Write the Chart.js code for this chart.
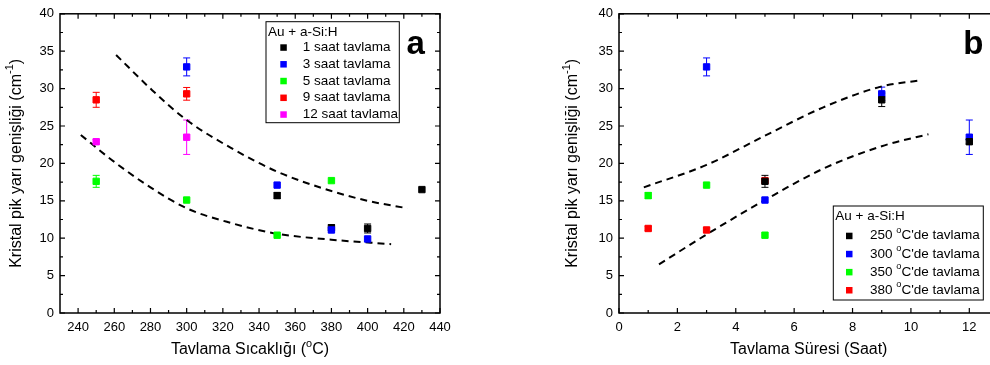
<!DOCTYPE html>
<html>
<head>
<meta charset="utf-8">
<script src="https://cdn.jsdelivr.net/npm/chart.js@4.4.0/dist/chart.umd.min.js"></script>
<style>
  body { margin: 0; background: #fff; width: 990px; height: 365px; overflow: hidden; position: relative; }
  #chartA { position: absolute; left: 0; top: 0; }
  #wrapB { position: absolute; left: 495px; top: 0; width: 495px; height: 365px; overflow: hidden; }
</style>
</head>
<body>
<canvas id="chartA" width="495" height="365"></canvas>
<div id="wrapB"><canvas id="chartB" width="540" height="365"></canvas></div>
<script>
const FONT = "'Liberation Sans', Arial, sans-serif";

// ---- shared y axis ----
const yTicks = [0, 5, 10, 15, 20, 25, 30, 35, 40];

// ---- panel a : x = annealing temperature ----
const tempTicks = [240, 260, 280, 300, 320, 340, 360, 380, 400, 420, 440];
const saat1X = [350, 380, 400, 430], saat1Y = [15.7, 11.4, 11.3, 16.5], saat1E = [0.4, 0.4, 0.6, 0];
const saat3X = [300, 350, 380, 400], saat3Y = [32.9, 17.1, 11.1, 9.9], saat3E = [1.2, 0, 0.3, 0];
const saat5X = [250, 300, 350, 380], saat5Y = [17.6, 15.1, 10.4, 17.7], saat5E = [0.8, 0, 0, 0];
const saat9X = [250, 300], saat9Y = [28.5, 29.3], saat9E = [1.0, 0.85];
const saat12X = [250, 300], saat12Y = [22.9, 23.5], saat12E = [0.3, 2.3];
// dashed guide curves
const upperAX = [261, 280, 300, 325, 350, 380, 400, 422];
const upperAY = [34.5, 30.0, 25.8, 22.0, 18.9, 16.3, 15.0, 14.0];
const lowerAX = [241.5, 260, 280, 300, 325, 350, 380, 413];
const lowerAY = [23.8, 20.2, 16.8, 14.0, 12.0, 10.6, 9.8, 9.2];

// ---- panel b : x = annealing time ----
const hourTicks = [0, 2, 4, 6, 8, 10, 12];
const c250X = [5, 9, 12], c250Y = [17.6, 28.5, 22.9], c250E = [0.8, 0.9, 0.3];
const c300X = [3, 5, 9, 12], c300Y = [32.9, 15.1, 29.3, 23.5], c300E = [1.2, 0, 0.9, 2.3];
const c350X = [1, 3, 5], c350Y = [15.7, 17.1, 10.4], c350E = [0.4, 0, 0];
const c380X = [1, 3, 5], c380Y = [11.3, 11.1, 17.7], c380E = [0.3, 0.3, 0];
const upperBX = [0.85, 3, 5, 7, 9, 10.3];
const upperBY = [16.8, 19.8, 23.7, 27.5, 30.3, 31.1];
const lowerBX = [1.37, 3, 5, 7, 9, 10.6];
const lowerBY = [6.5, 10.5, 15.1, 19.3, 22.3, 23.9];

const pts = (xs, ys) => xs.map((v, i) => ({ x: v, y: ys[i] }));
const mids = (t) => t.slice(1).map((v, i) => (v + t[i]) / 2);

function markers(label, xs, ys, err, color, order) {
  return {
    type: "scatter", label, data: pts(xs, ys), err, order,
    backgroundColor: color, borderColor: color, borderWidth: 1,
    pointStyle: "rect", pointRadius: 4.5, pointHoverRadius: 4.5
  };
}
function guide(xs, ys) {
  return {
    type: "line", data: pts(xs, ys), order: 10, showLine: true,
    borderColor: "#000", borderWidth: 2, borderDash: [7, 5],
    pointRadius: 0, fill: false, tension: 0.4, cubicInterpolationMode: "monotone"
  };
}

// text with ^superscript^ parts
function richText(ctx, str, x, y, size, align) {
  const parts = str.split("^");
  let w = 0;
  parts.forEach((p, i) => {
    ctx.font = (i % 2 ? size * 0.68 : size) + "px " + FONT;
    w += ctx.measureText(p).width;
  });
  let cx = align === "center" ? x - w / 2 : x;
  ctx.textAlign = "left";
  ctx.textBaseline = "middle";
  parts.forEach((p, i) => {
    const sup = i % 2 === 1;
    ctx.font = (sup ? size * 0.68 : size) + "px " + FONT;
    ctx.fillText(p, cx, sup ? y - size * 0.38 : y);
    cx += ctx.measureText(p).width;
  });
}

const frame = {
  id: "frame",
  beforeDatasetsDraw(chart) {
    const { ctx, scales: { x, y } } = chart;
    chart.data.datasets.forEach(ds => {
      if (!ds.err) return;
      ctx.save();
      ctx.strokeStyle = ds.borderColor;
      ctx.lineWidth = 1;
      ds.data.forEach((p, i) => {
        const e = ds.err[i];
        if (!e) return;
        const px = x.getPixelForValue(p.x);
        const t = y.getPixelForValue(p.y + e), b = y.getPixelForValue(p.y - e);
        ctx.beginPath();
        ctx.moveTo(px, t); ctx.lineTo(px, b);
        ctx.moveTo(px - 3.5, t); ctx.lineTo(px + 3.5, t);
        ctx.moveTo(px - 3.5, b); ctx.lineTo(px + 3.5, b);
        ctx.stroke();
      });
      ctx.restore();
    });
  },
  afterDraw(chart, args, o) {
    const { ctx, chartArea: a, scales: { x, y } } = chart;
    ctx.save();
    ctx.strokeStyle = "#000";
    ctx.fillStyle = "#000";
    ctx.lineWidth = 1.5;
    ctx.strokeRect(a.left, a.top, a.right - a.left, a.bottom - a.top);

    // inward ticks on all four sides
    ctx.lineWidth = 1.2;
    ctx.beginPath();
    const xt = (vals, len) => vals.forEach(v => {
      const px = x.getPixelForValue(v);
      ctx.moveTo(px, a.bottom); ctx.lineTo(px, a.bottom - len);
      ctx.moveTo(px, a.top); ctx.lineTo(px, a.top + len);
    });
    const yt = (vals, len) => vals.forEach(v => {
      const py = y.getPixelForValue(v);
      ctx.moveTo(a.left, py); ctx.lineTo(a.left + len, py);
      ctx.moveTo(a.right, py); ctx.lineTo(a.right - len, py);
    });
    xt(o.xMajor, 5); xt(o.xMinor, 3);
    yt(yTicks, 5); yt(mids(yTicks), 3);
    ctx.stroke();

    // axis titles
    richText(ctx, o.xTitle, (a.left + a.right) / 2, 350, 16, "center");
    ctx.save();
    ctx.translate(o.yTitleX, (a.top + a.bottom) / 2);
    ctx.rotate(-Math.PI / 2);
    richText(ctx, "Kristal pik yarı genişliği (cm^-1^)", 0, 0, 16, "center");
    ctx.restore();

    // panel letter
    ctx.font = "bold 33px " + FONT;
    ctx.textAlign = "left";
    ctx.textBaseline = "alphabetic";
    ctx.fillText(o.letter, o.letterX, 53.5);

    // legend
    const L = o.legend;
    ctx.lineWidth = 1;
    ctx.strokeRect(L.x, L.y, L.w, L.h);
    richText(ctx, "Au + a-Si:H", L.x + 2, L.titleY, 13.5, "left");
    chart.data.datasets.filter(d => d.label).forEach((d, i) => {
      const cy = L.rowY + i * L.rowH;
      ctx.fillStyle = d.backgroundColor;
      ctx.fillRect(L.markX - 3, cy - 3, 6.5, 6.5);
      ctx.fillStyle = "#000";
      richText(ctx, d.label, L.textX, cy, 13.5, "left");
    });
    ctx.restore();
  }
};

function axes(xmin, xmax, xMajor, yWidth) {
  const tickFont = { family: FONT, size: 13 };
  return {
    x: {
      type: "linear", min: xmin, max: xmax,
      grid: { display: false, drawTicks: false }, border: { display: false },
      afterBuildTicks: s => { s.ticks = xMajor.map(v => ({ value: v })); },
      afterFit: s => { s.height = 52; },
      ticks: { font: tickFont, color: "#000", padding: 7, maxRotation: 0, autoSkip: false }
    },
    y: {
      type: "linear", min: 0, max: 40,
      grid: { display: false, drawTicks: false }, border: { display: false },
      afterBuildTicks: s => { s.ticks = yTicks.map(v => ({ value: v })); },
      afterFit: s => { s.width = yWidth; },
      ticks: { font: tickFont, color: "#000", padding: 6 }
    }
  };
}

const common = {
  responsive: false, animation: false, events: [],
  plugins: { legend: { display: false }, tooltip: { enabled: false } }
};

new Chart(document.getElementById("chartA"), {
  type: "scatter",
  data: {
    datasets: [
      markers("1 saat tavlama", saat1X, saat1Y, saat1E, "#000000", 4),
      markers("3 saat tavlama", saat3X, saat3Y, saat3E, "#0000ff", 3),
      markers("5 saat tavlama", saat5X, saat5Y, saat5E, "#00ff00", 2),
      markers("9 saat tavlama", saat9X, saat9Y, saat9E, "#ff0000", 1),
      markers("12 saat tavlama", saat12X, saat12Y, saat12E, "#ff00ff", 0),
      guide(upperAX, upperAY),
      guide(lowerAX, lowerAY)
    ]
  },
  options: {
    ...common,
    layout: { padding: { top: 11, right: 55, left: 0, bottom: 0 } },
    scales: axes(230, 440, tempTicks, 60),
    plugins: {
      ...common.plugins,
      frame: {
        xMajor: tempTicks, xMinor: mids(tempTicks),
        xTitle: "Tavlama Sıcaklığı (^o^C)", yTitleX: 16.5,
        letter: "a", letterX: 406.5,
        legend: { x: 266, y: 21.7, w: 133.3, h: 101, titleY: 32.3, rowY: 47.3, rowH: 16.75, markX: 283.3, textX: 302.7 }
      }
    }
  },
  plugins: [frame]
});

new Chart(document.getElementById("chartB"), {
  type: "scatter",
  data: {
    datasets: [
      markers("250 ^o^C'de tavlama", c250X, c250Y, c250E, "#000000", 0),
      markers("300 ^o^C'de tavlama", c300X, c300Y, c300E, "#0000ff", 0),
      markers("350 ^o^C'de tavlama", c350X, c350Y, c350E, "#00ff00", 0),
      markers("380 ^o^C'de tavlama", c380X, c380Y, c380E, "#ff0000", 0),
      guide(upperBX, upperBY),
      guide(lowerBX, lowerBY)
    ]
  },
  options: {
    ...common,
    layout: { padding: { top: 11, right: 36.5, left: 0, bottom: 0 } },
    scales: axes(0, 13, hourTicks, 124),
    plugins: {
      ...common.plugins,
      frame: {
        xMajor: hourTicks, xMinor: mids(hourTicks).concat([13]),
        xTitle: "Tavlama Süresi (Saat)", yTitleX: 78,
        letter: "b", letterX: 468.3,
        legend: { x: 338.3, y: 206, w: 150, h: 94, titleY: 216.7, rowY: 235.7, rowH: 18.1, markX: 354, textX: 375 }
      }
    }
  },
  plugins: [frame]
});
</script>
</body>
</html>
